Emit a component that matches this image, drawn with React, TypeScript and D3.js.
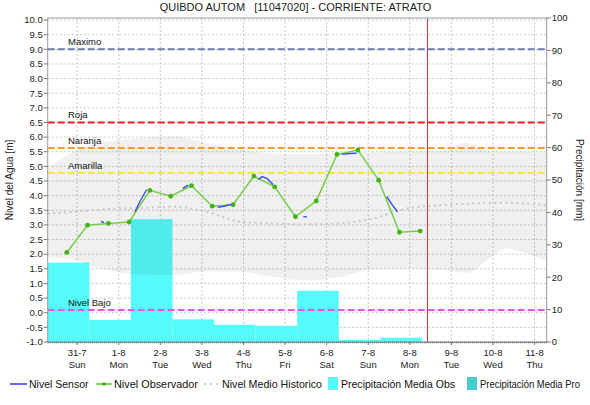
import React from "react";
import * as d3 from "d3";

// time unit: days counted from 31-7 00:00
const dayTicks = [0, 1, 2, 3, 4, 5, 6, 7, 8, 9, 10, 11];
const dayLabels = ["31-7", "1-8", "2-8", "3-8", "4-8", "5-8", "6-8", "7-8", "8-8", "9-8", "10-8", "11-8"];
const weekDays = ["Sun", "Mon", "Tue", "Wed", "Thu", "Fri", "Sat", "Sun", "Mon", "Tue", "Wed", "Thu"];

const levelTicks = [-1, -0.5, 0, 0.5, 1, 1.5, 2, 2.5, 3, 3.5, 4, 4.5, 5, 5.5, 6, 6.5, 7, 7.5, 8, 8.5, 9, 9.5, 10];
const precipTicks = [0, 10, 20, 30, 40, 50, 60, 70, 80, 90, 100];

const thresholds = [
  { name: "Maximo", value: 9.0, color: "#6b7bab" },
  { name: "Roja", value: 6.5, color: "#f21c1c" },
  { name: "Naranja", value: 5.63, color: "#f99a26" },
  { name: "Amarilla", value: 4.77, color: "#f3ee2c" },
  { name: "Nivel Bajo", value: 0.09, color: "#ea55ea" },
];

// daily precipitation (07:00 -> 07:00)
const precipStart = [-0.7083, 0.2917, 1.2917, 2.2917, 3.2917, 4.2917, 5.2917, 6.2917, 7.2917];
const precipObs = [24.5, 6.8, 37.9, 7.0, 5.3, 5.0, 15.8, 0.6, 1.3];

// observer readings (06:00 / 18:00)
const obsTimes = [-0.25, 0.25, 0.75, 1.25, 1.75, 2.25, 2.75, 3.25, 3.75, 4.25, 4.75, 5.25, 5.75, 6.25, 6.75, 7.25, 7.75, 8.25];
const obsValues = [2.06, 2.99, 3.05, 3.1, 4.18, 3.98, 4.34, 3.64, 3.69, 4.67, 4.3, 3.28, 3.82, 5.41, 5.56, 4.53, 2.75, 2.79];

// sensor pieces
const sensorSegments: [number, number][][] = [
  [[0.576, 3.12], [0.646, 3.08]],
  [[1.39, 3.45], [1.51, 3.8], [1.673, 4.21]],
  [[2.54, 4.25], [2.67, 4.36]],
  [[3.38, 3.6], [3.53, 3.64], [3.7, 3.7]],
  [[4.357, 4.55], [4.446, 4.65], [4.573, 4.58], [4.71, 4.38]],
  [[5.44, 3.28], [5.52, 3.28]],
  [[6.363, 5.41], [6.54, 5.44], [6.72, 5.45]],
  [[7.445, 3.97], [7.57, 3.7], [7.7, 3.45]],
];

// historical range and mean
const histTimes = [-0.71, -0.09, 0.71, 1.51, 2.31, 3.12, 3.92, 4.71, 5.52, 6.32, 7.12, 7.93, 8.73, 9.37, 9.93, 10.33, 10.65, 11.29];
const histMax = [4.93, 5.5, 5.84, 5.97, 6.02, 5.79, 5.56, 5.44, 5.42, 5.46, 5.48, 5.5, 5.52, 5.8, 5.52, 5.5, 5.5, 5.48];
const histMin = [1.91, 1.8, 1.46, 1.3, 1.29, 1.42, 1.4, 1.23, 1.1, 1.22, 1.48, 1.5, 1.47, 1.36, 1.87, 2.2, 2.1, 1.78];
const histMean = [3.39, 3.45, 3.54, 3.58, 3.62, 3.45, 3.11, 3.05, 3.02, 3.05, 3.22, 3.56, 3.67, 3.72, 3.75, 3.76, 3.74, 3.67];

const nowTime = 8.42;

const FONT = "'Liberation Sans', Arial, sans-serif";

export default function App() {
  const W = 590, H = 405;
  const left = 47.7, right = 546.7, top = 18, bottom = 342;

  const x = d3.scaleLinear().domain([-17 / 24, 12 - 17 / 24]).range([left, right]);
  const y = d3.scaleLinear().domain([-1, 10.07]).range([bottom, top]);
  const yp = d3.scaleLinear().domain([0, 100]).range([bottom, top]);

  const band = d3.area<number>()
    .x((_, i) => x(histTimes[i]))
    .y0((_, i) => y(histMin[i]))
    .y1((_, i) => y(histMax[i]))
    .curve(d3.curveMonotoneX);
  const meanLine = d3.line<number>()
    .x((_, i) => x(histTimes[i]))
    .y(d => y(d))
    .curve(d3.curveMonotoneX);
  const obsLine = d3.line<number>().x((_, i) => x(obsTimes[i])).y(d => y(d));
  const segLine = d3.line<[number, number]>().x(d => x(d[0])).y(d => y(d[1]));

  const nowX = Math.round(x(nowTime)) + 0.5;

  return (
    <svg width={W} height={H} style={{ position: "absolute", left: 0, top: 0, background: "#fff" }} fontFamily={FONT}>
      <text x={295.5} y={11} textAnchor="middle" fontSize={11} fill="#222" style={{ whiteSpace: "pre" }}>
        {"QUIBDO AUTOM   [11047020] - CORRIENTE: ATRATO"}
      </text>

      {/* grid */}
      {levelTicks.map(v => (
        <line key={"h" + v} x1={left} x2={right} y1={y(v)} y2={y(v)} stroke="#c8c8c8" strokeDasharray="2,2" />
      ))}
      {dayTicks.map(t => (
        <line key={"v" + t} x1={x(t)} x2={x(t)} y1={top} y2={bottom} stroke="#c8c8c8" strokeDasharray="2,2" />
      ))}

      {/* precipitation */}
      {precipObs.map((p, i) => (
        <rect key={"b" + i} x={x(precipStart[i])} width={x(precipStart[i] + 1) - x(precipStart[i])}
          y={yp(p)} height={bottom - yp(p)} fill="#55fbfb" />
      ))}

      {/* historical band */}
      <path d={band(histMax) || ""} fill="#000" fillOpacity={0.058} />

      {/* thresholds */}
      {thresholds.map(th => (
        <g key={th.name}>
          <line x1={left} x2={right} y1={y(th.value)} y2={y(th.value)} stroke={th.color} strokeWidth={2} strokeDasharray="7,3" />
          <text x={68} y={y(th.value) - 4} fontSize={9.5} fill="#111">{th.name}</text>
        </g>
      ))}

      <path d={meanLine(histMean) || ""} fill="none" stroke="#c6c6c6" strokeWidth={2} strokeDasharray="2,3.5" />

      {/* observer */}
      <path d={obsLine(obsValues) || ""} fill="none" stroke="#79cc48" strokeWidth={1.5} />
      {obsValues.map((v, i) => (
        <circle key={"o" + i} cx={x(obsTimes[i])} cy={y(v)} r={2.4} fill="#3fb514" />
      ))}

      {/* sensor */}
      {sensorSegments.map((s, i) => (
        <path key={"s" + i} d={segLine(s) || ""} fill="none" stroke="#3a48f0" strokeWidth={1.4} />
      ))}

      {/* now */}
      <line x1={nowX} x2={nowX} y1={top} y2={bottom} stroke="#f03030" strokeWidth={1} />

      {/* frame */}
      <rect x={left} y={top} width={right - left} height={bottom - top} fill="none" stroke="#9a9a9a" />
      <line x1={left} x2={right} y1={bottom + 0.5} y2={bottom + 0.5} stroke="#555" strokeDasharray="1,1" strokeWidth={1.5} />

      {/* left axis */}
      {levelTicks.map(v => (
        <g key={"l" + v}>
          <line x1={left - 4} x2={left} y1={y(v)} y2={y(v)} stroke="#777" />
          <text x={left - 5} y={y(v) + 3.3} textAnchor="end" fontSize={9.5} fill="#222">{v.toFixed(1)}</text>
        </g>
      ))}
      {/* right axis */}
      {precipTicks.map(p => (
        <g key={"r" + p}>
          <line x1={right} x2={right + 4} y1={yp(p)} y2={yp(p)} stroke="#777" />
          <text x={right + 5} y={yp(p) + 3.3} fontSize={9.5} fill="#222">{p}</text>
        </g>
      ))}
      {/* bottom axis */}
      {dayTicks.map((t, i) => (
        <g key={"d" + t}>
          <line x1={x(t)} x2={x(t)} y1={bottom} y2={bottom + 3} stroke="#777" />
          <text x={x(t)} y={bottom + 14} textAnchor="middle" fontSize={9.5} fill="#222">{dayLabels[i]}</text>
          <text x={x(t)} y={bottom + 26} textAnchor="middle" fontSize={9.5} fill="#222">{weekDays[i]}</text>
        </g>
      ))}

      <text transform={`translate(13,${(top + bottom) / 2}) rotate(-90)`} textAnchor="middle" fontSize={10} fill="#222">
        Nivel del Agua [m]
      </text>
      <text transform={`translate(576,${(top + bottom) / 2}) rotate(90)`} textAnchor="middle" fontSize={10} fill="#222">
        Precipitación [mm]
      </text>

      {/* legend */}
      <g fontSize={10.5} fill="#111">
        <line x1={10} x2={27} y1={384} y2={384} stroke="#1a2cf0" strokeWidth={1.4} />
        <text x={29} y={388}>Nivel Sensor</text>
        <line x1={96} x2={112} y1={384} y2={384} stroke="#55c522" strokeWidth={1.4} />
        <circle cx={104} cy={384} r={1.8} fill="#3fb514" />
        <text x={114} y={388} textLength={84} lengthAdjust="spacingAndGlyphs">Nivel Observador</text>
        <line x1={204} x2={220} y1={384} y2={384} stroke="#cfcfcf" strokeWidth={2} strokeDasharray="2,4" />
        <text x={222} y={388} textLength={100} lengthAdjust="spacingAndGlyphs">Nivel Medio Historico</text>
        <rect x={328} y={377} width={10} height={13} fill="#55fbfb" />
        <text x={341} y={388} textLength={114} lengthAdjust="spacingAndGlyphs">Precipitación Media Obs</text>
        <rect x={467} y={377} width={10} height={13} fill="#45cccc" />
        <text x={480} y={388} textLength={100} lengthAdjust="spacingAndGlyphs">Precipitación Media Pro</text>
      </g>
    </svg>
  );
}
